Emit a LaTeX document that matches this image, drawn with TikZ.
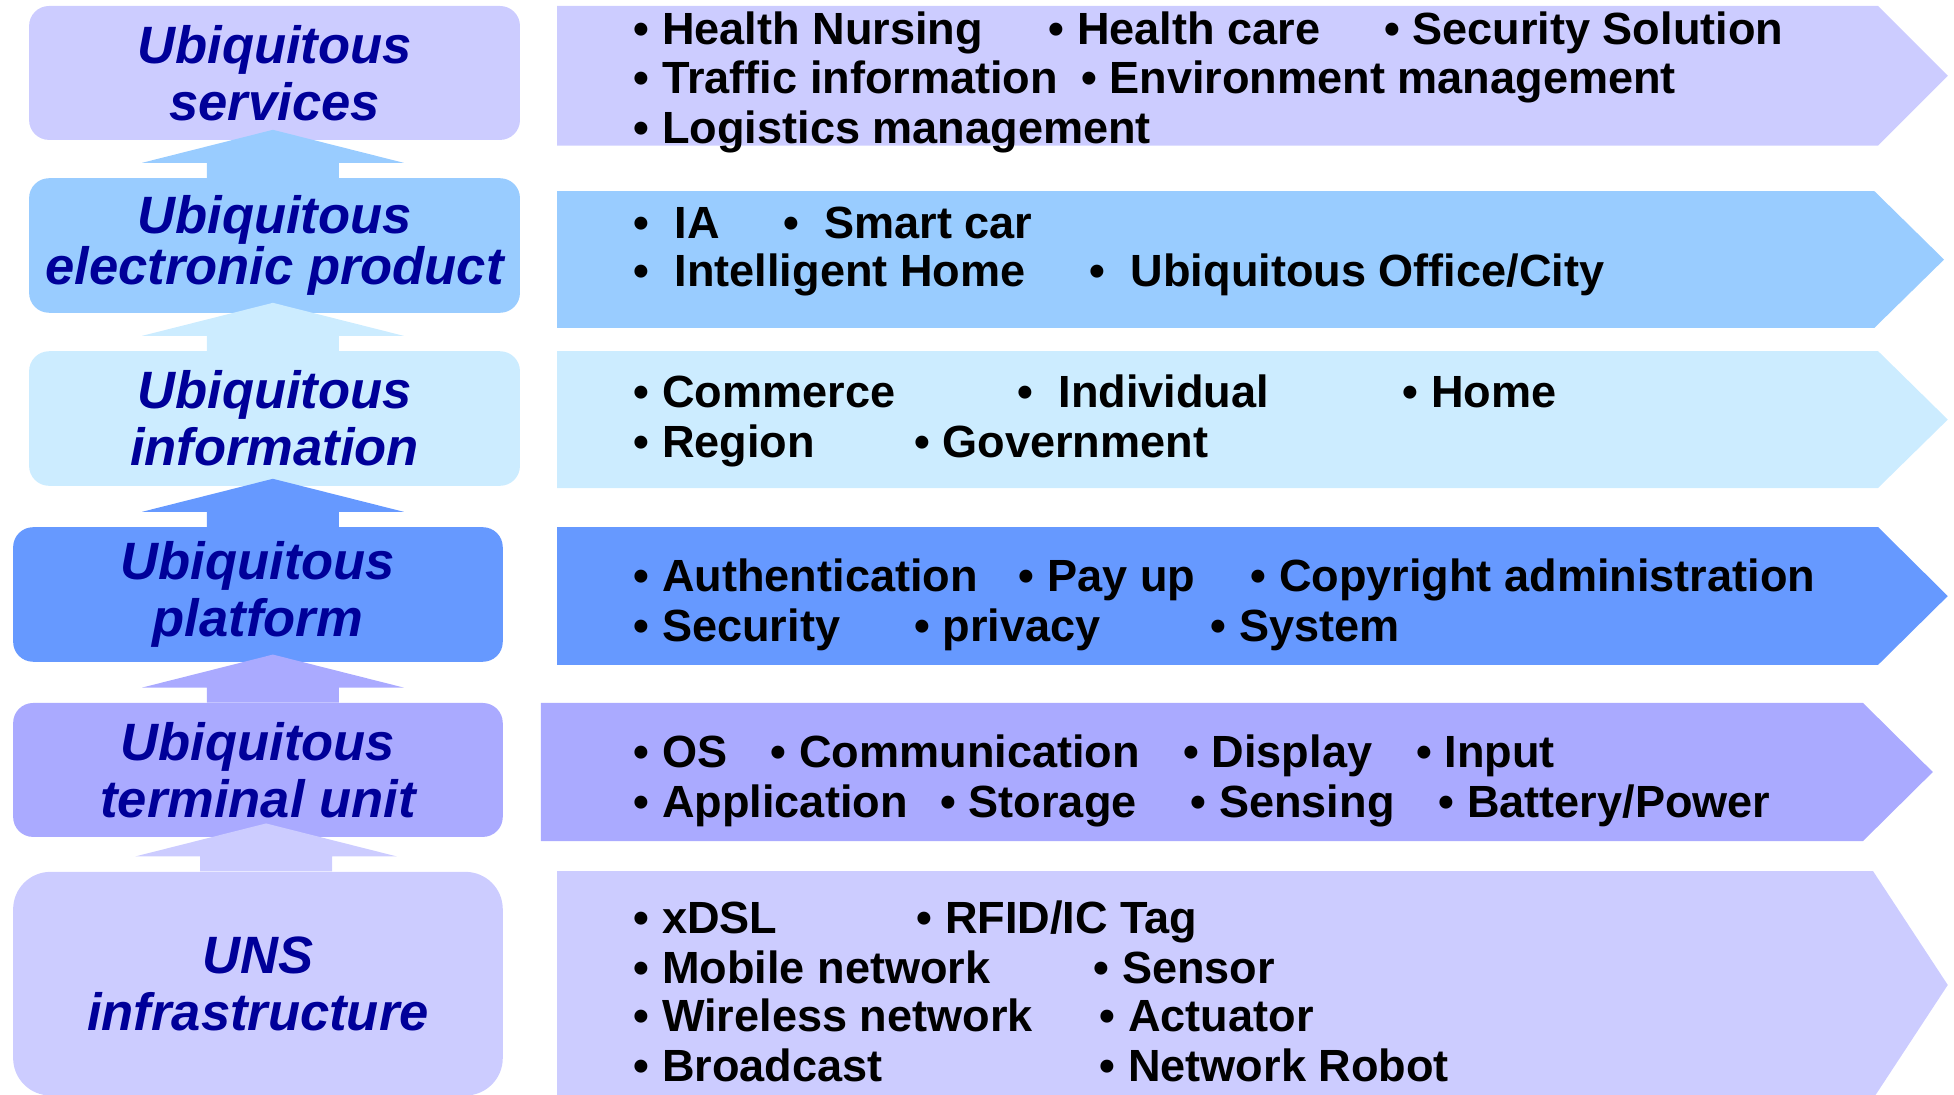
\documentclass[tikz,border=0pt]{standalone}
\usepackage{fontspec}
\setmainfont{Liberation Sans}

\definecolor{navy}{HTML}{000099}
\definecolor{lilac}{HTML}{CCCCFF}
\definecolor{sky}{HTML}{99CCFF}
\definecolor{ice}{HTML}{CCECFF}
\definecolor{cornflower}{HTML}{6699FF}
\definecolor{periwinkle}{HTML}{AAAAFF}

\tikzset{
  layer/.style={rectangle, rounded corners=0.32cm, inner sep=0pt,
    minimum width=7.88cm, minimum height=2.16cm, align=center, text=navy,
    font=\fontsize{24}{26}\selectfont\bfseries\itshape},
  item/.style={anchor=base west, inner sep=0pt,
    font=\fontsize{20.6}{22}\selectfont\bfseries}
}

% up arrow standing on a box top
\newcommand{\blockarrow}[2]{%
  \fill[#2] (#1) ++(-53,0) -- ++(0,-12) -- ++(-52,0) -- ++(105,-26.5)
    -- ++(105,26.5) -- ++(-52,0) -- ++(0,12) -- cycle;}

\begin{document}
\begin{tikzpicture}[x=0.02cm,y=-0.02cm]

    \useasboundingbox (0,0) rectangle (1568,878);
    \clip (0,0) rectangle (1568,878);

    %draw bands
    \fill[lilac]      (447,4.8)   -- (1507,4.8)   -- (1563,60.8)  -- (1507,116.8) -- (447,116.8) -- cycle;
    \fill[sky]        (447,153.3) -- (1504,153.3) -- (1560,208.3) -- (1504,263.2) -- (447,263.2) -- cycle;
    \fill[ice]        (447,281.7) -- (1507,281.7) -- (1563,336.7) -- (1507,391.6) -- (447,391.6) -- cycle;
    \fill[cornflower] (447,422.9) -- (1507,422.9) -- (1563,478.3) -- (1507,533.6) -- (447,533.6) -- cycle;
    \fill[periwinkle] (434.1,564.1) -- (1495,564.1) -- (1551,619.5) -- (1495,674.9) -- (434.1,674.9) -- cycle;
    \fill[lilac]      (447,699)   -- (1503,699)   -- (1563,790.4) -- (1503,881.8) -- (447,881.8) -- cycle;

    %draw layer boxes
    \node[layer, fill=lilac, minimum height=2.15cm] (svc) at (220.3,58.55) {Ubiquitous\\services};
    \node[layer, fill=sky, font=\fontsize{24}{23.3}\selectfont\bfseries\itshape] (prod) at (220.3,197) {Ubiquitous\\electronic product};
    \node[layer, fill=ice] (info) at (220.3,335.85) {Ubiquitous\\information};
    \node[layer, fill=cornflower, minimum width=7.86cm] (plat) at (207,477.05) {Ubiquitous\\platform};
    \node[layer, fill=periwinkle, minimum width=7.86cm, minimum height=2.15cm] (term) at (207,617.85) {Ubiquitous\\terminal unit};
    \node[layer, fill=lilac, minimum width=7.86cm, minimum height=3.59cm, rounded corners=0.6cm] (uns) at (207,789.35) {UNS\\infrastructure};

    %draw arrows between layers
    \coordinate (axis) at (219,0);
    \coordinate (axis5) at (213.5,0);
    \blockarrow{axis |- prod.north}{sky}
    \blockarrow{axis |- info.north}{ice}
    \blockarrow{axis |- plat.north}{cornflower}
    \blockarrow{axis |- term.north}{periwinkle}
    \blockarrow{axis5 |- uns.north}{lilac}

    %draw service items
    \node[item] (svc1) at (508.3,36)  {\textbullet\ Health Nursing};
    \node[item] (svc2) at (841.3,36)  {\textbullet\ Health care};
    \node[item] (svc3) at (1110.3,36) {\textbullet\ Security Solution};
    \node[item] (svc4) at (508.3,75)  {\textbullet\ Traffic information};
    \node[item] (svc5) at (867.3,75)  {\textbullet\ Environment management};
    \node[item] (svc6) at (508.3,115) {\textbullet\ Logistics management};

    %draw product items
    \node[item] (prod1) at (508.3,191) {\textbullet\ \ IA};
    \node[item] (prod2) at (628.3,191) {\textbullet\ \ Smart car};
    \node[item] (prod3) at (508.3,230) {\textbullet\ \ Intelligent Home};
    \node[item] (prod4) at (874.3,230) {\textbullet\ \ Ubiquitous Office/City};

    %draw information items
    \node[item] (info1) at (508.3,327)  {\textbullet\ Commerce};
    \node[item] (info2) at (816.3,327)  {\textbullet\ \ Individual};
    \node[item] (info3) at (1125.3,327) {\textbullet\ Home};
    \node[item] (info4) at (508.3,367)  {\textbullet\ Region};
    \node[item] (info5) at (733.3,367)  {\textbullet\ Government};

    %draw platform items
    \node[item] (plat1) at (508.3,475)  {\textbullet\ Authentication};
    \node[item] (plat2) at (817.3,475)  {\textbullet\ Pay up};
    \node[item] (plat3) at (1003.3,475) {\textbullet\ Copyright administration};
    \node[item] (plat4) at (508.3,515)  {\textbullet\ Security};
    \node[item] (plat5) at (733.3,515)  {\textbullet\ privacy};
    \node[item] (plat6) at (971.3,515)  {\textbullet\ System};

    %draw terminal items
    \node[item] (term1) at (508.3,616)  {\textbullet\ OS};
    \node[item] (term2) at (618.3,616)  {\textbullet\ Communication};
    \node[item] (term3) at (949.3,616)  {\textbullet\ Display};
    \node[item] (term4) at (1136.3,616) {\textbullet\ Input};
    \node[item] (term5) at (508.3,656)  {\textbullet\ Application};
    \node[item] (term6) at (754.3,656)  {\textbullet\ Storage};
    \node[item] (term7) at (955.3,656)  {\textbullet\ Sensing};
    \node[item] (term8) at (1154.3,656) {\textbullet\ Battery/Power};

    %draw infrastructure items
    \node[item] (uns1) at (508.3,749) {\textbullet\ xDSL};
    \node[item] (uns2) at (735.3,749) {\textbullet\ RFID/IC Tag};
    \node[item] (uns3) at (508.3,789) {\textbullet\ Mobile network};
    \node[item] (uns4) at (877.3,789) {\textbullet\ Sensor};
    \node[item] (uns5) at (508.3,828) {\textbullet\ Wireless network};
    \node[item] (uns6) at (882.3,828) {\textbullet\ Actuator};
    \node[item] (uns7) at (508.3,868) {\textbullet\ Broadcast};
    \node[item] (uns8) at (882.3,868) {\textbullet\ Network Robot};

\end{tikzpicture}
\end{document}
